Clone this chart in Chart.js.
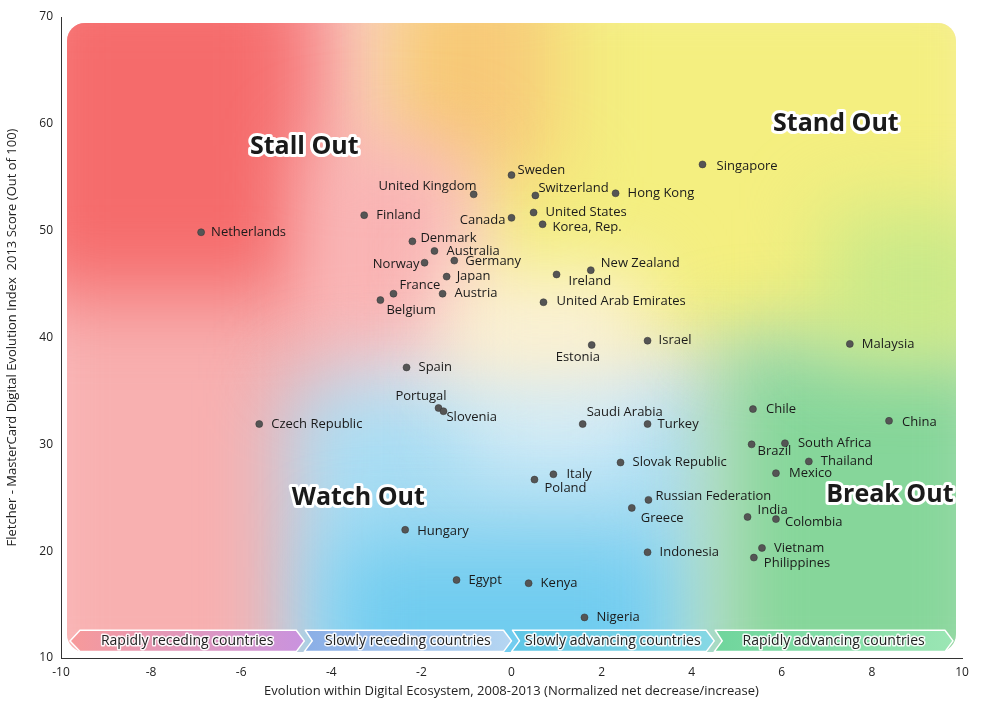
<!DOCTYPE html>
<html><head><meta charset="utf-8">
<script src="https://cdn.jsdelivr.net/npm/chart.js@4"></script>
<style>html,body{margin:0;background:#fff}#wrap{width:1000px;height:701px}</style>
</head><body><div id="wrap"><canvas id="c"></canvas></div>
<script>
const countries = ['Netherlands','Finland','United Kingdom','Sweden','Switzerland','Hong Kong','Singapore','Canada','United States','Korea, Rep.','Denmark','Australia','Norway','Germany','Japan','France','Austria','Belgium','New Zealand','Ireland','United Arab Emirates','Israel','Estonia','Malaysia','Spain','Portugal','Slovenia','Czech Republic','Saudi Arabia','Turkey','Chile','China','Brazil','South Africa','Thailand','Mexico','Slovak Republic','Italy','Poland','Russian Federation','Greece','India','Colombia','Hungary','Indonesia','Vietnam','Philippines','Egypt','Kenya','Nigeria'];
const evolution = [-6.89,-3.27,-0.84,0.0,0.53,2.31,4.24,0.0,0.49,0.69,-2.2,-1.71,-1.93,-1.27,-1.44,-2.62,-1.53,-2.91,1.76,1.0,0.71,3.02,1.78,7.51,-2.33,-1.62,-1.51,-5.6,1.58,3.02,5.36,8.38,5.33,6.07,6.6,5.87,2.42,0.93,0.51,3.04,2.67,5.24,5.87,-2.36,3.02,5.56,5.38,-1.22,0.38,1.62];
const score2013 = [49.85,51.45,53.4,55.2,53.3,53.5,56.2,51.2,51.7,50.6,49.0,48.1,47.0,47.2,45.7,44.1,44.1,43.5,46.3,45.9,43.3,39.7,39.3,39.4,37.2,33.4,33.1,31.9,31.9,31.9,33.3,32.2,30.0,30.1,28.4,27.3,28.3,27.2,26.7,24.8,24.05,23.2,23.0,22.0,19.9,20.3,19.4,17.3,17.0,13.8];
const quadrantNames = ['Stall Out','Stand Out','Watch Out','Break Out'];
const quadrantX = [-4.6,7.2,-3.4,8.4];
const quadrantY = [57.8,60,25,25.3];
const bandLabels = ['Rapidly receding countries','Slowly receding countries','Slowly advancing countries','Rapidly advancing countries'];
const xTicks = [-10,-8,-6,-4,-2,0,2,4,6,8,10];

// label placement offsets in px [dx, dy, align]
const labelPos = [[10,0,'l'],[12,0,'l'],[3,-8,'r'],[6,-5,'l'],[3,-7,'l'],[12,0,'l'],[14,2,'l'],[-6,2,'r'],[12,0,'l'],[10,3,'l'],[8,-3,'l'],[12,0,'l'],[-5,2,'r'],[11,1,'l'],[10,0,'l'],[6,-8,'l'],[12,0,'l'],[6,10,'l'],[10,-7,'l'],[12,7,'l'],[13,-1,'l'],[11,0,'l'],[-36,12,'l'],[12,0,'l'],[12,0,'l'],[8,-12,'r'],[3,6,'l'],[12,0,'l'],[4,-12,'l'],[10,0,'l'],[13,0,'l'],[13,1,'l'],[6,7,'l'],[13,0,'l'],[12,0,'l'],[13,0,'l'],[12,0,'l'],[13,0,'l'],[10,9,'l'],[7,-4,'l'],[9,10,'l'],[10,-7,'l'],[9,3,'l'],[12,1,'l'],[12,0,'l'],[12,0,'l'],[10,6,'l'],[12,0,'l'],[12,0,'l'],[12,0,'l']];

function rr(ctx,x,y,w,h,r){ctx.beginPath();ctx.moveTo(x+r,y);ctx.arcTo(x+w,y,x+w,y+h,r);ctx.arcTo(x+w,y+h,x,y+h,r);ctx.arcTo(x,y+h,x,y,r);ctx.arcTo(x,y,x+w,y,r);ctx.closePath();}

const bgPlugin = {
  id:'bg',
  beforeDatasetsDraw(chart){
    const {ctx,chartArea:a,scales:{x,y}} = chart;
    ctx.save();
    rr(ctx,a.left+6,a.top+6,a.width-12,a.height-12,18);ctx.clip();
    ctx.fillStyle='#fbe6ea';ctx.fillRect(a.left,a.top,a.width,a.height);
    ctx.filter='blur(40px)';
    const blob=(x0,x1,y0,y1,c)=>{ctx.fillStyle=c;ctx.fillRect(x.getPixelForValue(x0),y.getPixelForValue(y1),x.getPixelForValue(x1)-x.getPixelForValue(x0),y.getPixelForValue(y0)-y.getPixelForValue(y1));};
    blob(-11,-3.5,5,75,'#f8b0b0');
    blob(-1,11,38,75,'#f4ef80');
    blob(-3,1,55,75,'#f7c977');
    blob(-11,-4.5,44,75,'#f56b6b');
    blob(-4.5,-1,38,58,'#f9b2b2');
    blob(-5,4.5,5,36,'#a9ddf3');
    blob(-4,3.5,5,21,'#70ccef');
    blob(-1,3,28,36,'#d8eef8');
    blob(4.5,11,5,40,'#86d69a');
    blob(7,11,38,52,'#c8e98a');
    blob(-1.5,3,36,46,'#fbf1da');
    ctx.restore();
    // band ribbon
    ctx.save();
    const yt=y.getPixelForValue(12.6), yb=y.getPixelForValue(10.6), ym=(yt+yb)/2;
    const segs=[[-9.8,-4.6,'#f79a9a','#c993df'],[-4.6,0,'#8aaee6','#b5d6f2'],[0,4.5,'#5ec6e6','#86d8e4'],[4.5,9.8,'#6fd59c','#9be6b4']];
    segs.forEach((s,i)=>{
      const l=x.getPixelForValue(s[0]), r=x.getPixelForValue(s[1]);
      const g=ctx.createLinearGradient(l,0,r,0);g.addColorStop(0,s[2]);g.addColorStop(1,s[3]);
      ctx.fillStyle=g;ctx.beginPath();
      ctx.moveTo(l+(i==0?0:1),i==0?ym:yt);
      if(i==0){ctx.lineTo(l+10,yt);}
      ctx.lineTo(r-8,yt);ctx.lineTo(r,ym);ctx.lineTo(r-8,yb);
      if(i==0){ctx.lineTo(l+10,yb);}else{ctx.lineTo(l,yb);ctx.lineTo(l+8,ym);}
      ctx.closePath();ctx.fill();
      ctx.strokeStyle='#fff';ctx.lineWidth=1.5;ctx.stroke();
      ctx.font='14px "Open Sans"';ctx.textAlign='center';ctx.textBaseline='middle';
      ctx.lineWidth=3;ctx.strokeStyle='rgba(255,255,255,0.9)';ctx.lineJoin='round';
      ctx.strokeText(bandLabels[i],(l+r)/2,ym);ctx.fillStyle='#222';ctx.fillText(bandLabels[i],(l+r)/2,ym);
    });
    // quadrant titles
    ctx.font='bold 25px "Open Sans"';
    quadrantNames.forEach((q,i)=>{
      const px=x.getPixelForValue(quadrantX[i]), py=y.getPixelForValue(quadrantY[i]);
      ctx.lineWidth=6;ctx.strokeStyle='#fff';ctx.strokeText(q,px,py);ctx.fillStyle='#1a1a1a';ctx.fillText(q,px,py);
    });
    ctx.restore();
  },
  afterDatasetsDraw(chart){
    const {ctx} = chart;
    const meta = chart.getDatasetMeta(0);
    ctx.save();ctx.font='13px "Open Sans"';ctx.textBaseline='middle';ctx.fillStyle='#1a1a1a';
    meta.data.forEach((p,i)=>{
      const o=labelPos[i];ctx.textAlign=o[2]=='l'?'left':'right';
      ctx.fillText(countries[i],p.x+o[0],p.y+o[1]);
    });
    ctx.restore();
  }
};

new Chart(document.getElementById('c'),{
  type:'scatter',
  data:{datasets:[{data:evolution.map((v,i)=>({x:v,y:score2013[i]})),backgroundColor:'#555',borderColor:'#333',borderWidth:0.5,pointRadius:3.5,pointHoverRadius:3.5}]},
  options:{
    responsive:true,maintainAspectRatio:false,animation:false,
    layout:{padding:{top:17,right:38,bottom:0,left:0}},
    plugins:{legend:{display:false},tooltip:{enabled:false}},
    scales:{
      x:{type:'linear',min:-10,max:10,afterBuildTicks(s){s.ticks=xTicks.map(v=>({value:v}));},
        grid:{display:false,drawTicks:true,tickLength:5},border:{color:'#333'},
        ticks:{color:'#222',font:{size:12,family:'Open Sans'},padding:2},
        title:{display:true,text:'Evolution within Digital Ecosystem, 2008-2013 (Normalized net decrease/increase)',color:'#222',font:{size:13,family:'Open Sans'},padding:{top:2,bottom:2}}},
      y:{min:10,max:70,afterFit(s){s.width=61;},
        grid:{display:false,tickLength:5},border:{color:'#333'},
        ticks:{stepSize:10,color:'#222',font:{size:12,family:'Open Sans'}},
        title:{display:true,text:'Fletcher - MasterCard Digital Evolution Index  2013 Score (Out of 100)',color:'#222',font:{size:13,family:'Open Sans'},padding:{bottom:4}}}
    }
  },
  plugins:[bgPlugin]
});
</script></body></html>
